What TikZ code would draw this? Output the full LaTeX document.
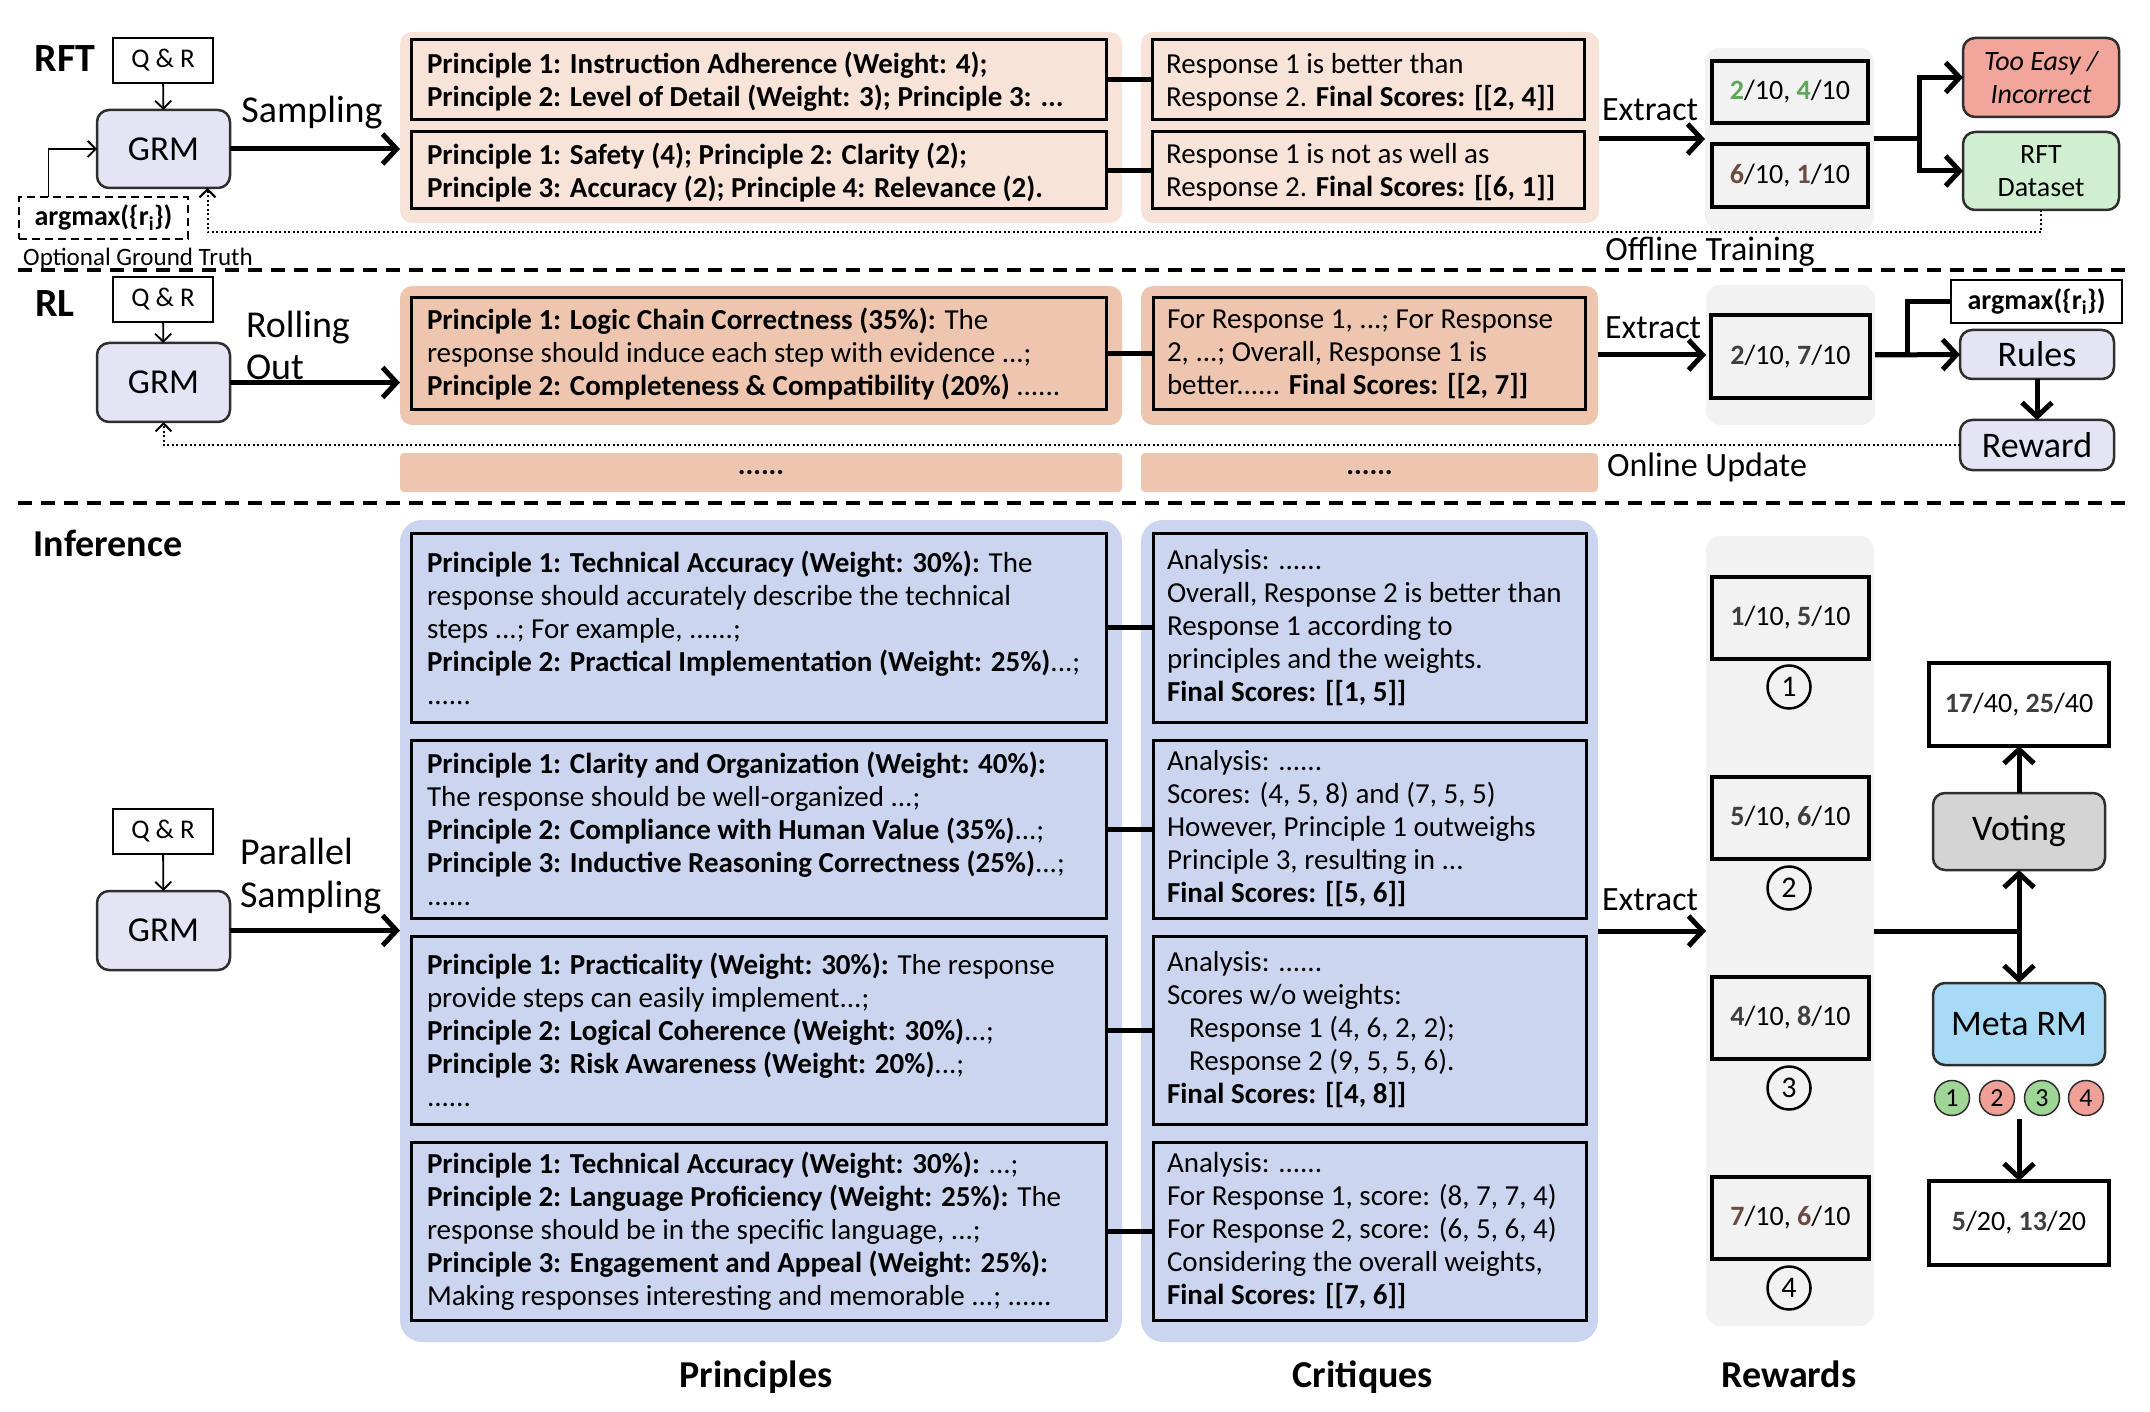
\documentclass[tikz,border=0pt]{standalone}
\usepackage{fontspec}
\setmainfont{Carlito}
\usetikzlibrary{arrows.meta,calc}
\definecolor{peachL}{HTML}{F7E3D7}
\definecolor{peachD}{HTML}{EEC6AF}
\definecolor{blueBG}{HTML}{CCD5EF}
\definecolor{grayBG}{HTML}{F2F2F2}
\definecolor{grmC}{HTML}{E4E4F4}
\definecolor{votC}{HTML}{D4D4D4}
\definecolor{metaC}{HTML}{A8DAF5}
\definecolor{easyC}{HTML}{F2A59B}
\definecolor{dataC}{HTML}{CFEFD0}
\definecolor{okG}{HTML}{9ED695}
\definecolor{badR}{HTML}{F0A097}
\definecolor{numG}{HTML}{5FA85A}
\definecolor{numD}{HTML}{3F3F3F}
\definecolor{numR}{HTML}{6A4A42}
\definecolor{edge}{HTML}{2F2F2F}
\newcommand\fs[2]{\fontsize{#1}{#2}\selectfont}
% style, name, x1, y1, x2, y2, text
\newcommand\bx[7]{\node[#1, minimum width={(#5-#3)*1pt}, minimum height={(#6-#4)*1pt}] (#2) at ({(#3+#5)/2},{(#4+#6)/2}) {#7};}
\newcommand\bnum[2]{\textbf{\textcolor{#1}{#2}}}
\tikzset{
  every node/.style={inner sep=0pt, outer sep=0pt},
  bgpeach/.style={fill=peachL, rounded corners=12pt},
  bgpeachd/.style={fill=peachD, rounded corners=12pt},
  bgblue/.style={fill=blueBG, rounded corners=22pt},
  bggray/.style={fill=grayBG, rounded corners=14pt},
  dotbar/.style={fill=peachD, rounded corners=4pt, font=\bfseries\fs{29}{30}},
  tbox/.style={draw=black, line width=3pt},
  sbox/.style={draw=black, line width=4.5pt},
  rbox/.style={draw=edge, line width=2.5pt, rounded corners=12pt},
  qbox/.style={draw=black, line width=2pt, font=\fs{27}{30}},
  ptext/.style={font=\fs{29}{33}, align=left, anchor=west},
  stext/.style={font=\fs{28}{30}},
  lab/.style={font=\fs{38}{42}, align=left},
  labs/.style={font=\fs{34}{38}},
  head/.style={font=\bfseries\fs{40}{44}},
  foot/.style={font=\bfseries\fs{38}{40}, anchor=base},
  conn/.style={line width=5pt},
  thickln/.style={line width=5pt},
  thickarr/.style={line width=5pt, -{Straight Barb[length=14pt,width=30pt]}},
  thinarr/.style={line width=1.8pt, -{Straight Barb[length=8pt,width=16pt]}},
  dotarr/.style={line width=2pt, dash pattern=on 2pt off 2.5pt, -{Straight Barb[length=8pt,width=16pt]}},
  sepline/.style={line width=3.5pt, dash pattern=on 14pt off 9pt},
  circ/.style={circle, draw=black, line width=2.5pt, minimum size=43pt, font=\fs{30}{30}},
  mcirc/.style={circle, draw=edge, line width=1.5pt, minimum size=35pt, font=\fs{26}{26}},
}
\begin{document}
\begin{tikzpicture}[x=1pt,y=-1pt]
\useasboundingbox (0,0) rectangle (2150,1412);
% ---------- backgrounds
\bx{bgpeach}{bgA}{400}{32}{1122}{223}{}
\bx{bgpeach}{bgB}{1141}{32}{1599}{223}{}
\bx{bggray}{bgC}{1705}{48}{1874}{230}{}
\bx{bgpeachd}{bgD}{400}{286}{1122}{425}{}
\bx{bgpeachd}{bgE}{1141}{286}{1598}{425}{}
\bx{bggray}{bgF}{1706}{285}{1875}{425}{}
\bx{dotbar}{barA}{400}{453}{1122}{492}{......}
\bx{dotbar}{barB}{1141}{453}{1598}{492}{......}
\bx{bgblue}{bgG}{400}{520}{1122}{1342}{}
\bx{bgblue}{bgH}{1141}{520}{1598}{1342}{}
\bx{bggray}{bgI}{1706}{536}{1874}{1326}{}
% ---------- separators
\draw[sepline] (18,270) -- (2132,270);
\draw[sepline] (18,503) -- (2132,503);
% ---------- headers
\node[head] (hRFT) at (65,59) {RFT};
\node[head] (hRL) at (55,304) {RL};
\node[head, font=\bfseries\fs{38}{40}] (hInf) at (108,543) {Inference};
% ---------- left column
\bx{qbox}{qr1}{113}{38}{213}{83}{Q \& R}
\bx{rbox,fill=grmC,font=\fs{35}{38}}{grm1}{97}{110}{230}{188}{GRM}
\bx{draw=black,line width=2.5pt,dash pattern=on 8pt off 5pt,font=\bfseries\fs{28}{30}}{amx0}{19}{197}{188}{239}{argmax(\{r\textsubscript{i}\})}
\node[font=\fs{25}{27}] (ogt) at (138,259) {Optional Ground Truth};
\node[lab] (samp1) at (312,113) {Sampling};
\bx{qbox}{qr2}{113}{277}{213}{322}{Q \& R}
\bx{rbox,fill=grmC,font=\fs{35}{38}}{grm2}{97}{343}{230}{422}{GRM}
\node[lab, anchor=west] (roll) at (246,345) {Rolling\\Out};
\bx{qbox}{qr3}{113}{809}{213}{854}{Q \& R}
\bx{rbox,fill=grmC,font=\fs{35}{38}}{grm3}{97}{891}{230}{970}{GRM}
\node[lab, anchor=west, font=\fs{38}{43}] (par) at (240,876) {Parallel\\Sampling};
% ---------- RFT principles / critiques
\bx{tbox}{rp1}{411}{40}{1106}{120}{}
\node[ptext, font=\bfseries\fs{29}{33}] (rp1t) at ([xshift=16pt,yshift=-2pt]rp1.west) {Principle 1: Instruction Adherence (Weight: 4);\\Principle 2: Level of Detail (Weight: 3); Principle 3: ...};
\bx{tbox}{rp2}{411}{132}{1106}{209}{}
\node[ptext, font=\bfseries\fs{29}{33}] (rp2t) at ([xshift=16pt,yshift=-2pt]rp2.west) {Principle 1: Safety (4); Principle 2: Clarity (2);\\Principle 3: Accuracy (2); Principle 4: Relevance (2).};
\bx{tbox}{rc1}{1152}{40}{1584}{120}{}
\node[ptext] (rc1t) at ([xshift=14pt,yshift=-2pt]rc1.west) {Response 1 is better than\\Response 2. \textbf{Final Scores: [[2, 4]]}};
\bx{tbox}{rc2}{1152}{132}{1584}{209}{}
\node[ptext] (rc2t) at ([xshift=14pt,yshift=-2pt]rc2.west) {Response 1 is not as well as\\Response 2. \textbf{Final Scores: [[6, 1]]}};
% ---------- RL principles / critiques
\bx{tbox}{lp}{411}{298}{1106}{410}{}
\node[ptext] (lpt) at ([xshift=16pt]lp.west) {\textbf{Principle 1: Logic Chain Correctness (35\%):} The\\response should induce each step with evidence ...;\\\textbf{Principle 2: Completeness \& Compatibility (20\%)} ......};
\bx{tbox}{lc}{1153}{298}{1585}{410}{}
\node[ptext] (lct) at ([xshift=14pt]lc.west) {For Response 1, ...; For Response\\2, ...; Overall, Response 1 is\\better...... \textbf{Final Scores: [[2, 7]]}};
% ---------- Inference principles
\bx{tbox}{ip1}{411}{533}{1106}{722}{}
\node[ptext] (ip1t) at ([xshift=16pt]ip1.west) {\textbf{Principle 1: Technical Accuracy (Weight: 30\%):} The\\response should accurately describe the technical\\steps ...; For example, ......;\\\textbf{Principle 2: Practical Implementation (Weight: 25\%)}...;\\......};
\bx{tbox}{ip2}{411}{740}{1106}{918}{}
\node[ptext] (ip2t) at ([xshift=16pt]ip2.west) {\textbf{Principle 1: Clarity and Organization (Weight: 40\%):}\\The response should be well-organized ...;\\\textbf{Principle 2: Compliance with Human Value (35\%)}...;\\\textbf{Principle 3: Inductive Reasoning Correctness (25\%)}...;\\......};
\bx{tbox}{ip3}{411}{936}{1106}{1124}{}
\node[ptext] (ip3t) at ([xshift=16pt]ip3.west) {\textbf{Principle 1: Practicality (Weight: 30\%):} The response\\provide steps can easily implement...;\\\textbf{Principle 2: Logical Coherence (Weight: 30\%)}...;\\\textbf{Principle 3: Risk Awareness (Weight: 20\%)}...;\\......};
\bx{tbox}{ip4}{411}{1142}{1106}{1320}{}
\node[ptext] (ip4t) at ([xshift=16pt]ip4.west) {\textbf{Principle 1: Technical Accuracy (Weight: 30\%):} ...;\\\textbf{Principle 2: Language Proficiency (Weight: 25\%):} The\\response should be in the specific language, ...;\\\textbf{Principle 3: Engagement and Appeal (Weight: 25\%):}\\Making responses interesting and memorable ...; ......};
% ---------- Inference critiques
\bx{tbox}{ic1}{1153}{533}{1586}{722}{}
\node[ptext] (ic1t) at ([xshift=14pt]ic1.west) {Analysis: ......\\Overall, Response 2 is better than\\Response 1 according to\\principles and the weights.\\\textbf{Final Scores: [[1, 5]]}};
\bx{tbox}{ic2}{1153}{740}{1586}{918}{}
\node[ptext] (ic2t) at ([xshift=14pt]ic2.west) {Analysis: ......\\Scores: (4, 5, 8) and (7, 5, 5)\\However, Principle 1 outweighs\\Principle 3, resulting in ...\\\textbf{Final Scores: [[5, 6]]}};
\bx{tbox}{ic3}{1153}{936}{1586}{1124}{}
\node[ptext] (ic3t) at ([xshift=14pt]ic3.west) {Analysis: ......\\Scores w/o weights:\\\hspace*{22pt}Response 1 (4, 6, 2, 2);\\\hspace*{22pt}Response 2 (9, 5, 5, 6).\\\textbf{Final Scores: [[4, 8]]}};
\bx{tbox}{ic4}{1153}{1142}{1586}{1320}{}
\node[ptext] (ic4t) at ([xshift=14pt]ic4.west) {Analysis: ......\\For Response 1, score: (8, 7, 7, 4)\\For Response 2, score: (6, 5, 6, 4)\\Considering the overall weights,\\\textbf{Final Scores: [[7, 6]]}};
% ---------- score boxes
\bx{sbox,stext}{rs1}{1712}{61}{1868}{123}{\bnum{numG}{2}/10, \bnum{numG}{4}/10}
\bx{sbox,stext}{rs2}{1712}{144}{1868}{207}{\bnum{numR}{6}/10, \bnum{numR}{1}/10}
\bx{sbox,stext}{ls}{1711}{315}{1870}{398}{\bnum{numD}{2}/10, \bnum{numD}{7}/10}
\bx{sbox,stext}{is1}{1712}{577}{1869}{659}{\bnum{numD}{1}/10, \bnum{numD}{5}/10}
\bx{sbox,stext}{is2}{1712}{777}{1869}{859}{\bnum{numD}{5}/10, \bnum{numD}{6}/10}
\bx{sbox,stext}{is3}{1712}{977}{1869}{1059}{\bnum{numD}{4}/10, \bnum{numD}{8}/10}
\bx{sbox,stext}{is4}{1712}{1177}{1869}{1259}{\bnum{numR}{7}/10, \bnum{numR}{6}/10}
\node[circ] (n1) at (1789,687) {1};
\node[circ] (n2) at (1789,888) {2};
\node[circ] (n3) at (1789,1088) {3};
\node[circ] (n4) at (1789,1288) {4};
% ---------- right column
\bx{rbox,fill=easyC,font=\itshape\fs{28}{33},align=center}{easy}{1963}{38}{2119}{117}{Too Easy /\\Incorrect}
\bx{rbox,fill=dataC,font=\fs{28}{33},align=center}{rftd}{1963}{132}{2119}{210}{RFT\\Dataset}
\bx{draw=black,line width=2.5pt,font=\bfseries\fs{28}{30}}{amx}{1951}{280}{2122}{323}{argmax(\{r\textsubscript{i}\})}
\bx{rbox,fill=grmC,font=\fs{36}{38}}{rules}{1960}{330}{2114}{379}{Rules}
\bx{rbox,fill=grmC,font=\fs{36}{38}}{reward}{1960}{420}{2114}{470}{Reward}
\bx{sbox,fill=white,stext}{res1}{1929}{663}{2109}{746}{\bnum{numD}{17}/40, \bnum{numD}{25}/40}
\bx{rbox,fill=votC,font=\fs{36}{38}}{vote}{1933}{793}{2105}{870}{Voting}
\bx{rbox,fill=metaC,font=\fs{36}{38}}{meta}{1933}{983}{2105}{1065}{Meta RM}
\node[mcirc,fill=okG] (m1) at (1952,1098) {1};
\node[mcirc,fill=badR] (m2) at (1997,1098) {2};
\node[mcirc,fill=okG] (m3) at (2042,1098) {3};
\node[mcirc,fill=badR] (m4) at (2086,1098) {4};
\bx{sbox,fill=white,stext}{res2}{1929}{1181}{2109}{1265}{\bnum{numD}{5}/20, \bnum{numD}{13}/20}
% ---------- labels
\node[labs] (ext1) at (1650,110) {Extract};
\node[labs] (ext2) at (1653,328) {Extract};
\node[labs] (ext3) at (1650,900) {Extract};
\node[labs] (off) at (1710,252) {Offline Training};
\node[labs] (onl) at (1707,467) {Online Update};
\node[foot] (lP) at (756,1387) {Principles};
\node[foot] (lC) at (1363,1387) {Critiques};
\node[foot] (lR) at (1789,1387) {Rewards};
% ---------- connectors
\draw[thinarr] (qr1) -- (grm1);
\draw[thinarr] (qr2) -- (grm2);
\draw[thinarr] (qr3) -- (grm3);
\draw[thinarr] ([xshift=-55pt]amx0.north) |- (grm1.west);
\draw[thickarr] (grm1.east) -- (grm1.east -| bgA.west);
\draw[thickarr] (grm2.east) -- (grm2.east -| bgD.west);
\draw[thickarr] (grm3.east) -- (grm3.east -| bgG.west);
\draw[conn] (rp1.east) -- (rc1.west);
\draw[conn] (rp2.east) -- (rc2.west);
\draw[conn] (lp.east) -- (lc.west);
\draw[conn] (ip1.east) -- (ic1.west);
\draw[conn] (ip2.east) -- (ic2.west);
\draw[conn] (ip3.east) -- (ic3.west);
\draw[conn] (ip4.east) -- (ic4.west);
\draw[thickarr] (bgB.east |- bgC.west) -- (bgC.west);
\draw[thickarr] (bgE.east |- bgF.west) -- (bgF.west);
\draw[thickarr] (bgH.east |- bgI.west) -- (bgI.west);
% RFT branch
\coordinate (br1) at (1919,139);
\draw[thickarr] (bgC.east) -- (br1) |- (easy.west);
\draw[thickarr] (bgC.east) -- (br1) |- (rftd.west);
% RL branch
\coordinate (br2) at (1907,355);
\draw[thickln] (bgF.east) -- (br2) |- (amx.west);
\draw[thickarr] (bgF.east) -- (rules.west);
\draw[thickarr] (rules) -- (reward);
% Inference branch
\coordinate (br3) at (2019,931);
\draw[thickln] (bgI.east) -- (br3);
\draw[thickarr] (br3) -- (vote.south);
\draw[thickarr] (br3) -- (meta.north);
\draw[thickarr] (vote) -- (res1);
\coordinate (mb) at (2019,1119);
\draw[thickarr] (mb) -- (res2.north);
% feedback
\draw[dotarr] (rftd.south) -- ++(0,22) -| ([xshift=44pt]grm1.south);
\draw[dotarr] (reward.west) -| (grm2.south);
\end{tikzpicture}
\end{document}
